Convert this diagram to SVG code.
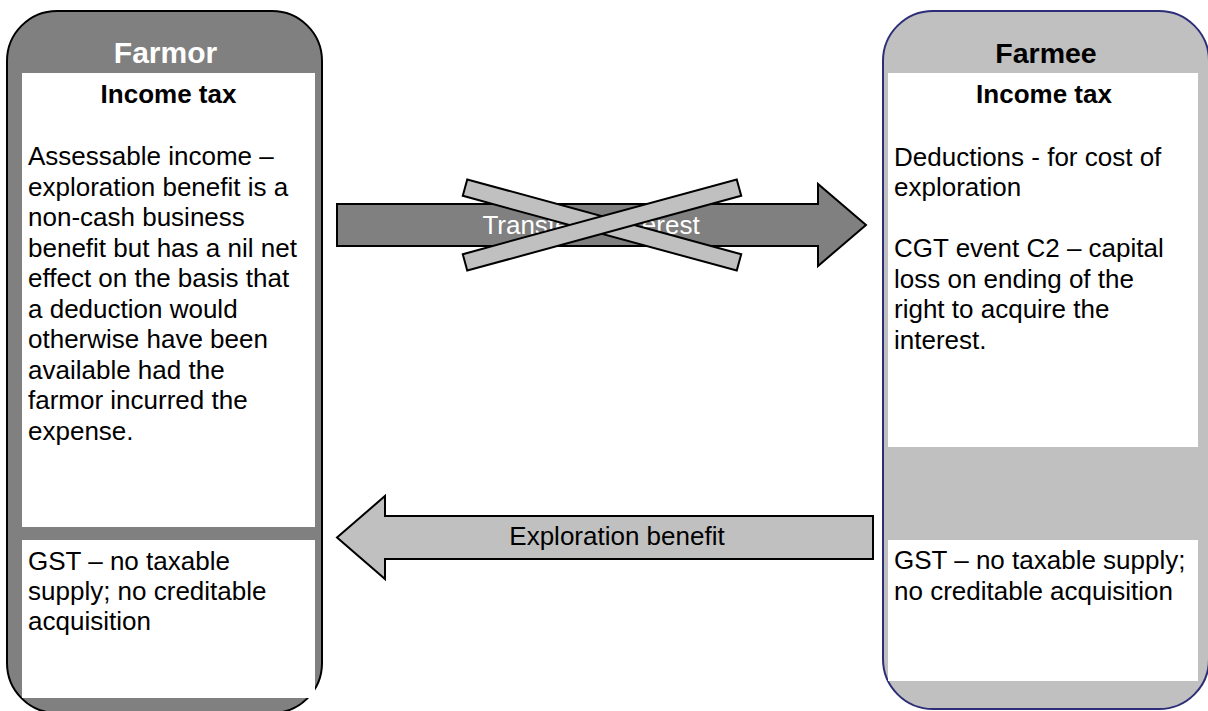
<svg xmlns="http://www.w3.org/2000/svg" width="1208" height="711" viewBox="0 0 1208 711">
<style>
text{font-family:"Liberation Sans",Arial,Helvetica,sans-serif;}
.body{font-size:26px;fill:#000;}
.head{font-size:26px;font-weight:bold;fill:#000;text-anchor:middle;}
.white{fill:#fff;stroke:none;}
.blk{stroke:#000;stroke-width:2;stroke-linejoin:miter;}
</style>
<rect width="1208" height="711" fill="#fff"/>
<g id="farmor">
<rect x="7" y="11" width="315" height="702" rx="50" ry="50" fill="#808080" stroke="#000" stroke-width="2"/>
<text x="165.5" y="63" font-size="30" font-weight="bold" fill="#fff" text-anchor="middle">Farmor</text>
<rect class="white" x="22" y="73" width="293" height="454"/>
<text class="head" x="168.5" y="103">Income tax</text>
<text class="body" x="28">
<tspan x="28" y="165">Assessable income –</tspan>
<tspan x="28" y="195.5">exploration benefit is a</tspan>
<tspan x="28" y="226">non-cash business</tspan>
<tspan x="28" y="256.5">benefit but has a nil net</tspan>
<tspan x="28" y="287">effect on the basis that</tspan>
<tspan x="28" y="317.5">a deduction would</tspan>
<tspan x="28" y="348">otherwise have been</tspan>
<tspan x="28" y="378.5">available had the</tspan>
<tspan x="28" y="409">farmor incurred the</tspan>
<tspan x="28" y="439.5">expense.</tspan>
</text>
<rect class="white" x="22" y="540" width="293" height="158"/>
<text class="body">
<tspan x="28" y="570">GST – no taxable</tspan>
<tspan x="28" y="600">supply; no creditable</tspan>
<tspan x="28" y="630">acquisition</tspan>
</text>
</g>
<g id="farmee">
<rect x="883" y="11" width="326" height="698" rx="50" ry="50" fill="#c0c0c0" stroke="#2e2e78" stroke-width="2"/>
<text x="1046" y="63" font-size="28.5" font-weight="bold" fill="#000" text-anchor="middle">Farmee</text>
<rect class="white" x="888" y="73" width="310" height="374"/>
<text class="head" x="1044" y="103" font-size="27">Income tax</text>
<text class="body">
<tspan x="894" y="165.5">Deductions - for cost of</tspan>
<tspan x="894" y="196">exploration</tspan>
<tspan x="894" y="257">CGT event C2 – capital</tspan>
<tspan x="894" y="287.5">loss on ending of the</tspan>
<tspan x="894" y="318">right to acquire the</tspan>
<tspan x="894" y="348.5">interest.</tspan>
</text>
<rect class="white" x="888" y="540" width="310" height="141"/>
<text class="body">
<tspan x="894" y="569">GST – no taxable supply;</tspan>
<tspan x="894" y="600">no creditable acquisition</tspan>
</text>
</g>
<g id="connectors">
<g id="transfer-arrow">
<polygon class="blk" points="337,204 818,204 818,184 866,225 818,266 818,246 337,246" fill="#808080"/>
<text x="591" y="234" font-size="26" fill="#fff" text-anchor="middle">Transfer of interest</text>
<g id="cross" fill="#c0c0c0" stroke="#000" stroke-width="2">
<rect x="460" y="216.5" width="284" height="17" transform="rotate(15.26 602 225)"/>
<rect x="460" y="216.5" width="284" height="17" transform="rotate(-15.26 602 225)"/>
</g>
</g>
<g id="benefit-arrow">
<polygon class="blk" points="873,516 385,516 385,496 337,537.5 385,579 385,559 873,559" fill="#c0c0c0"/>
<text x="617" y="545" font-size="26" fill="#000" text-anchor="middle">Exploration benefit</text>
</g>
</g>
</svg>
